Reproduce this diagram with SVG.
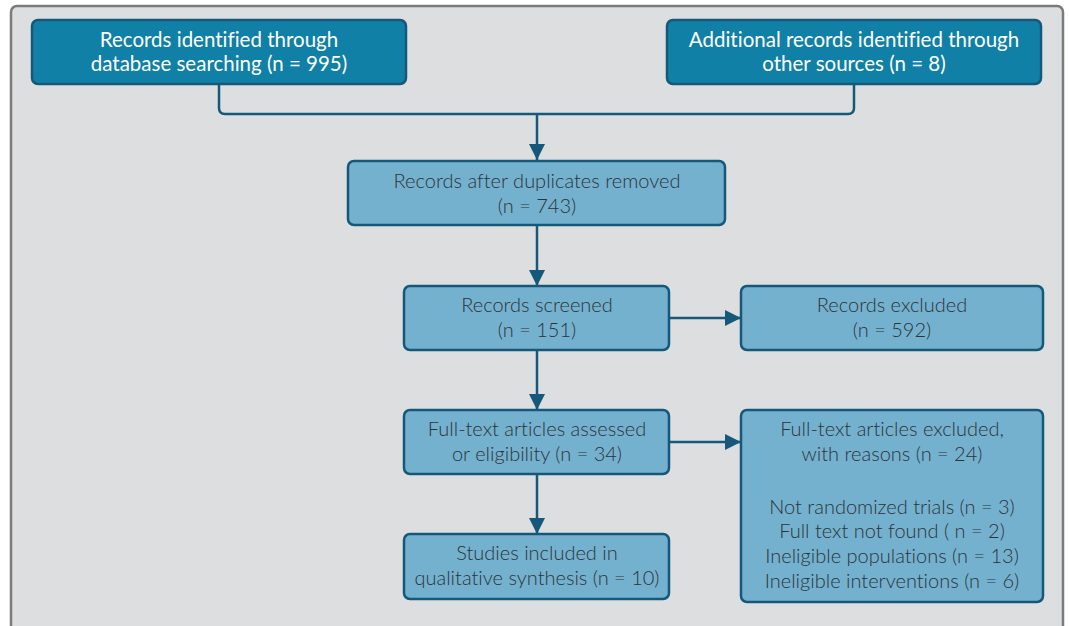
<svg xmlns="http://www.w3.org/2000/svg" width="1069" height="626" viewBox="0 0 1069 626">
<style>
.panel{fill:#dcdee0;stroke:#7b7b7b;stroke-width:2.5}
.dark{fill:#1080a6;stroke:#16587a;stroke-width:2.5}
.light{fill:#74b1cf;stroke:#16587a;stroke-width:2.5}
.tw{font-family:Lato,"Liberation Sans",sans-serif;font-size:20.5px;fill:#ffffff;text-anchor:middle;font-variant-ligatures:none}
.td{font-family:Lato,"Liberation Sans",sans-serif;font-size:20px;font-weight:300;fill:#2d3338;text-anchor:middle;font-variant-ligatures:none}
.con{fill:none;stroke:#16587a;stroke-width:2.5}
</style>
<defs>
<marker id="arr" viewBox="0 0 16 16" refX="16" refY="8" markerWidth="16" markerHeight="16" markerUnits="userSpaceOnUse" orient="auto">
<path d="M0,0 L16,8 L0,16 z" fill="#16587a"/>
</marker>
</defs>
<rect class="panel" x="11" y="6" width="1052" height="640" rx="6"/>
<g id="connectors">
<path class="con" d="M219,84 V108 Q219,114 225,114 H848 Q854,114 854,108 V84"/>
<path class="con" d="M537,114 V160" marker-end="url(#arr)"/>
<path class="con" d="M537,225 V286" marker-end="url(#arr)"/>
<path class="con" d="M669,318 H741" marker-end="url(#arr)"/>
<path class="con" d="M537,350 V410" marker-end="url(#arr)"/>
<path class="con" d="M669,442 H741" marker-end="url(#arr)"/>
<path class="con" d="M537,474 V534" marker-end="url(#arr)"/>
</g>
<g id="n1">
<rect class="dark" x="32" y="20" width="374" height="64" rx="6"/>
<text class="tw" x="219" y="47">Records identified through</text>
<text class="tw" x="219" y="71">database searching (n = 995)</text>
</g>
<g id="n2">
<rect class="dark" x="667" y="20" width="374" height="64" rx="6"/>
<text class="tw" x="854" y="47">Additional records identified through</text>
<text class="tw" x="854" y="71">other sources (n = 8)</text>
</g>
<g id="n3">
<rect class="light" x="348" y="161" width="377" height="64" rx="6"/>
<text class="td" x="537" y="188">Records after duplicates removed</text>
<text class="td" x="537" y="213">(n = 743)</text>
</g>
<g id="n4">
<rect class="light" x="404" y="286" width="265" height="64" rx="6"/>
<text class="td" x="537" y="312">Records screened</text>
<text class="td" x="537" y="337">(n = 151)</text>
</g>
<g id="n5">
<rect class="light" x="741" y="286" width="302" height="64" rx="6"/>
<text class="td" x="892" y="312">Records excluded</text>
<text class="td" x="892" y="337">(n = 592)</text>
</g>
<g id="n6">
<rect class="light" x="404" y="410" width="265" height="64" rx="6"/>
<text class="td" x="537" y="436">Full-text articles assessed</text>
<text class="td" x="537" y="461">or eligibility (n = 34)</text>
</g>
<g id="n7">
<rect class="light" x="741" y="410" width="302" height="192" rx="6"/>
<text class="td" x="892" y="436">Full-text articles excluded,</text>
<text class="td" x="892" y="461">with reasons (n = 24)</text>
<text class="td" x="892" y="514">Not randomized trials (n = 3)</text>
<text class="td" x="892" y="538">Full text not found ( n = 2)</text>
<text class="td" x="892" y="563">Ineligible populations (n = 13)</text>
<text class="td" x="892" y="588">Ineligible interventions (n = 6)</text>
</g>
<g id="n8">
<rect class="light" x="404" y="534" width="265" height="65" rx="6"/>
<text class="td" x="537" y="560">Studies included in</text>
<text class="td" x="537" y="585">qualitative synthesis (n = 10)</text>
</g>
</svg>
